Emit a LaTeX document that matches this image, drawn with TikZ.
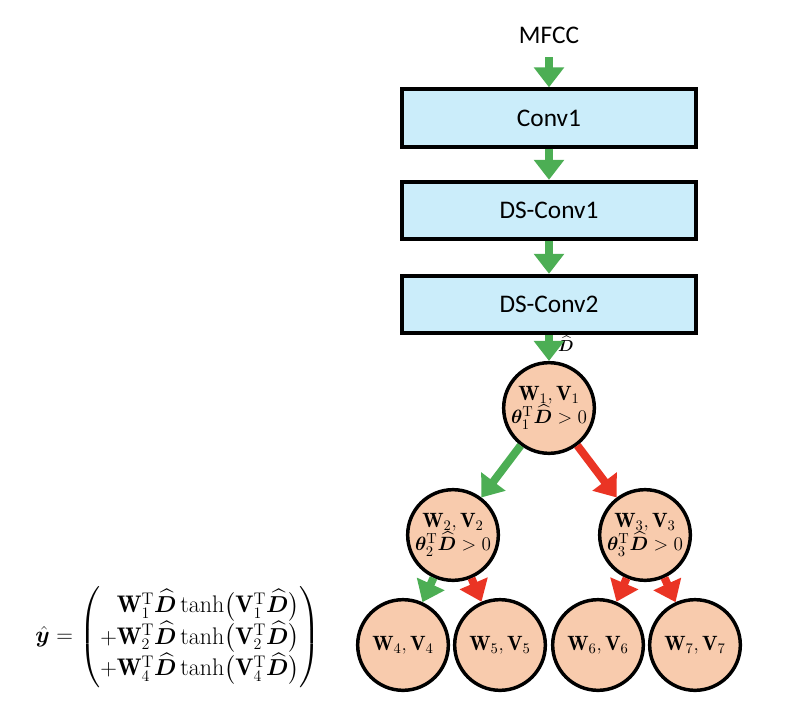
\documentclass[tikz,border=0pt]{standalone}
\usepackage{amsmath,amssymb,bm}
\usepackage{fontspec}
\newfontfamily\lab{Carlito}
\usetikzlibrary{arrows.meta}
\definecolor{agreen}{RGB}{76,174,84}
\definecolor{ared}{RGB}{234,52,36}
\definecolor{boxfill}{RGB}{203,237,250}
\definecolor{nodefill}{RGB}{248,203,173}
\newcommand{\Dh}{\widehat{\bm{D}}}
\begin{document}
\begin{tikzpicture}[x=0.75pt,y=-0.75pt,
  blk/.style={draw,line width=3pt,fill=boxfill,minimum width=220pt,minimum height=43pt,font=\lab\fontsize{19}{22}\selectfont},
  tn/.style={circle,draw,line width=2.6pt,fill=nodefill,minimum size=68pt,inner sep=0pt,align=center,font=\fontsize{15.5}{15.5}\selectfont},
  arr/.style={line width=6pt,-{Triangle[length=15pt,width=22pt]}},
  ga/.style={arr,agreen},
  ra/.style={arr,ared}]
\useasboundingbox (0,0) rectangle (796,728);
\node[font=\lab\fontsize{19}{22}\selectfont] (mfcc) at (549,35) {MFCC};
\node[blk] (c1) at (549,118) {Conv1};
\node[blk] (d1) at (549,210.5) {DS-Conv1};
\node[blk] (d2) at (549,304.5) {DS-Conv2};
\node[tn] (n1) at (549,408) {$\mathbf{W}_1,\mathbf{V}_1$\\[-1pt]$\bm{\theta}_1^{\mathrm{T}}\Dh>0$};
\node[tn] (n2) at (453,535) {$\mathbf{W}_2,\mathbf{V}_2$\\[-1pt]$\bm{\theta}_2^{\mathrm{T}}\Dh>0$};
\node[tn] (n3) at (645,535) {$\mathbf{W}_3,\mathbf{V}_3$\\[-1pt]$\bm{\theta}_3^{\mathrm{T}}\Dh>0$};
\node[tn] (l4) at (403,645) {$\mathbf{W}_4,\mathbf{V}_4$};
\node[tn] (l5) at (500,645) {$\mathbf{W}_5,\mathbf{V}_5$};
\node[tn] (l6) at (598,645) {$\mathbf{W}_6,\mathbf{V}_6$};
\node[tn] (l7) at (695,645) {$\mathbf{W}_7,\mathbf{V}_7$};
\node[font=\fontsize{12}{12}\selectfont] (dlab) at (566,344) {$\Dh$};
\coordinate (m0) at (549,57);
\draw[ga] (m0) -- (c1.north);
\draw[ga] (c1.south) -- (d1.north);
\draw[ga] (d1.south) -- (d2.north);
\draw[ga] (d2.south) -- (n1.north);
\draw[ga] (n1) -- (n2);
\draw[ra] (n1) -- (n3);
\draw[ga] (n2) -- (l4);
\draw[ra] (n2) -- (l5);
\draw[ra] (n3) -- (l6);
\draw[ra] (n3) -- (l7);
\node[font=\fontsize{18}{22}\selectfont] (eq) at (178,637) {$\hat{\bm{y}}=\begin{pmatrix}\hfill\mathbf{W}_1^{\mathrm{T}}\Dh\tanh\bigl(\mathbf{V}_1^{\mathrm{T}}\Dh\bigr)\\ +\mathbf{W}_2^{\mathrm{T}}\Dh\tanh\bigl(\mathbf{V}_2^{\mathrm{T}}\Dh\bigr)\\ +\mathbf{W}_4^{\mathrm{T}}\Dh\tanh\bigl(\mathbf{V}_4^{\mathrm{T}}\Dh\bigr)\end{pmatrix}$};
\end{tikzpicture}
\end{document}
